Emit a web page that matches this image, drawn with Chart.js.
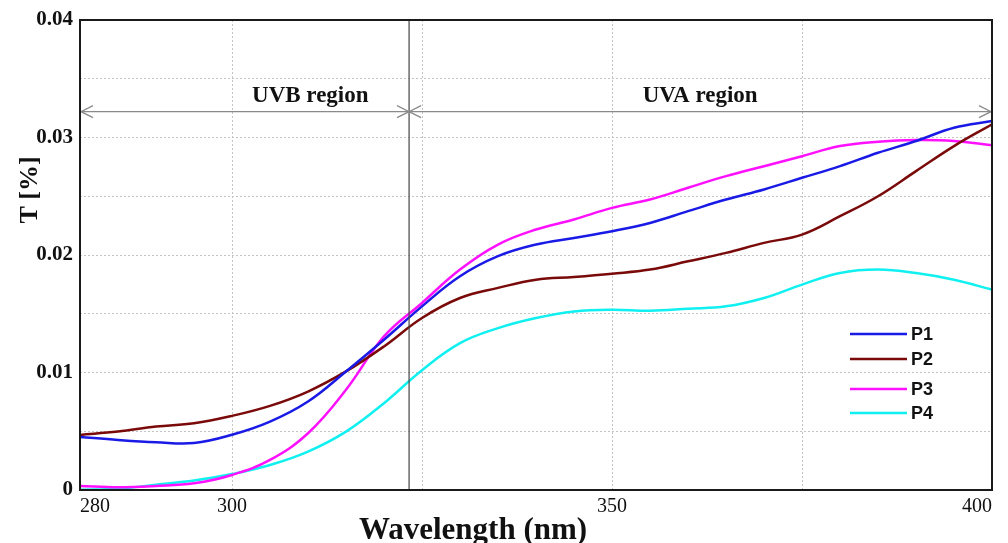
<!DOCTYPE html>
<html>
<head>
<meta charset="utf-8">
<script src="https://cdn.jsdelivr.net/npm/chart.js@4.4.1/dist/chart.umd.min.js"></script>
<style>
  html, body { margin: 0; padding: 0; background: #ffffff; }
  #wrap { width: 1008px; height: 543px; }
</style>
</head>
<body>
<div id="wrap"><canvas id="c" width="1008" height="543"></canvas></div>
<script>
// ---- Data ----
const wavelengths = [280,285,290,295,300,305,310,315,320,325,330,335,340,345,350,355,360,365,370,375,380,385,390,395,400];
const P1 = [0.00452,0.00426,0.00407,0.00400,0.00470,0.00582,0.00753,0.01009,0.01279,0.01563,0.01819,0.01990,0.02089,0.02145,0.02202,0.02273,0.02373,0.02472,0.02558,0.02657,0.02756,0.02870,0.02970,0.03083,0.03140];
const P2 = [0.00469,0.00497,0.00540,0.00568,0.00631,0.00716,0.00838,0.01009,0.01222,0.01464,0.01634,0.01720,0.01790,0.01813,0.01841,0.01876,0.01946,0.02018,0.02103,0.02174,0.02330,0.02500,0.02714,0.02927,0.03112];
const P3 = [0.00034,0.00023,0.00034,0.00057,0.00128,0.00256,0.00483,0.00853,0.01307,0.01592,0.01876,0.02089,0.02217,0.02302,0.02401,0.02472,0.02572,0.02671,0.02756,0.02841,0.02927,0.02964,0.02978,0.02970,0.02933];
const P4 = [0.00002,0.00010,0.00045,0.00080,0.00136,0.00213,0.00327,0.00497,0.00739,0.01020,0.01250,0.01378,0.01464,0.01520,0.01535,0.01526,0.01543,0.01563,0.01634,0.01748,0.01847,0.01876,0.01847,0.01790,0.01705];
const seriesNames = ['P1','P2','P3','P4'];
const seriesColors = ['#1a1ae6','#7a0a0a','#ff10ff','#10f0f0'];
const xTicks = [280,300,325,350,375,400];
const xLabels = [280,300,350,400];
const regionBoundary = 323.3;     // UVB / UVA boundary (nm)
const arrowLevel = 0.0322;        // height of the region arrows
const regionLabels = [{text:'UVB region', x:310.3}, {text:'UVA region', x:361.6}];
const xTitle = 'Wavelength (nm)';
const yTitle = 'T [%]';

const allSeries = [P1,P2,P3,P4];
const datasets = allSeries.map((arr, i) => ({
  label: seriesNames[i],
  data: arr.map((v, j) => ({x: wavelengths[j], y: v})),
  borderColor: seriesColors[i],
  backgroundColor: seriesColors[i],
  borderWidth: 2.5,
  pointRadius: 0,
  fill: false,
  tension: 0.4
}));

const serif = '"Liberation Serif", "DejaVu Serif", serif';

const overlay = {
  id: 'overlay',
  afterDatasetsDraw(chart) {
    const {ctx, chartArea: a, scales: {x, y}} = chart;
    ctx.save();
    // boundary vertical line
    const bx = x.getPixelForValue(regionBoundary);
    ctx.strokeStyle = '#444';
    ctx.lineWidth = 1.2;
    ctx.beginPath(); ctx.moveTo(bx, a.top); ctx.lineTo(bx, a.bottom); ctx.stroke();
    // arrows
    const ay = y.getPixelForValue(arrowLevel);
    ctx.strokeStyle = '#8a8a8a';
    ctx.lineWidth = 1.3;
    ctx.beginPath(); ctx.moveTo(a.left, ay); ctx.lineTo(a.right, ay); ctx.stroke();
    const head = (px, dir) => {
      ctx.beginPath();
      ctx.moveTo(px + dir*12, ay - 6); ctx.lineTo(px, ay); ctx.lineTo(px + dir*12, ay + 6);
      ctx.stroke();
    };
    head(a.left + 1, 1); head(bx, -1); head(bx, 1); head(a.right - 1, -1);
    // region labels
    ctx.fillStyle = '#111';
    ctx.font = 'bold 23px ' + serif;
    ctx.textAlign = 'center';
    ctx.textBaseline = 'alphabetic';
    regionLabels.forEach(r => ctx.fillText(r.text, x.getPixelForValue(r.x), ay - 10));
    // frame
    ctx.strokeStyle = '#1a1a1a';
    ctx.lineWidth = 2;
    ctx.strokeRect(a.left, a.top, a.right - a.left, a.bottom - a.top);
    // legend
    const offs = [0, 25, 55, 79];
    chart.data.datasets.forEach((ds, i) => {
      const ly = 334 + offs[i];
      ctx.strokeStyle = ds.borderColor;
      ctx.lineWidth = 2.5;
      ctx.beginPath(); ctx.moveTo(850, ly); ctx.lineTo(907, ly); ctx.stroke();
      ctx.fillStyle = '#111';
      ctx.font = 'bold 18px "Liberation Sans", Arial, sans-serif';
      ctx.textAlign = 'left';
      ctx.textBaseline = 'middle';
      ctx.fillText(ds.label, 911, ly + 1);
    });
    // axis titles
    ctx.fillStyle = '#111';
    ctx.font = 'bold 31px ' + serif;
    ctx.textAlign = 'center';
    ctx.textBaseline = 'alphabetic';
    ctx.fillText(xTitle, 473, 539);
    ctx.save();
    ctx.translate(37, 190);
    ctx.rotate(-Math.PI/2);
    ctx.font = 'bold 26px ' + serif;
    ctx.fillText(yTitle, 0, 0);
    ctx.restore();
    ctx.restore();
  }
};

new Chart(document.getElementById('c'), {
  type: 'line',
  data: { datasets },
  options: {
    responsive: false,
    devicePixelRatio: 1,
    animation: false,
    layout: { padding: { top: 20, right: 16, left: 0, bottom: 0 } },
    plugins: { legend: { display: false }, tooltip: { enabled: false } },
    scales: {
      x: {
        type: 'linear',
        min: 280, max: 400,
        afterBuildTicks: s => { s.ticks = xTicks.map(v => ({value: v})); },
        afterFit: s => { s.height = 53; },
        ticks: {
          autoSkip: false, maxRotation: 0, align: 'inner', padding: 5,
          color: '#111',
          font: { family: serif, size: 20 },
          callback: v => xLabels.includes(v) ? String(v) : ''
        },
        grid: { color: '#c4c4c4', lineWidth: 1, drawTicks: false },
        border: { display: false, dash: [2, 2] }
      },
      y: {
        min: 0, max: 0.04,
        afterBuildTicks: s => { const t=[]; for (let i=0;i<=8;i++) t.push({value: i*0.005}); s.ticks = t; },
        afterFit: s => { s.width = 80; },
        ticks: {
          padding: 7, color: '#111',
          font: { family: serif, size: 21, weight: 'bold' },
          callback: v => {
            const k = Math.round(v / 0.005);
            if (k % 2 !== 0) return '';
            return k === 0 ? '0' : (k * 0.005).toFixed(2);
          }
        },
        grid: { color: '#c4c4c4', lineWidth: 1, drawTicks: false },
        border: { display: false, dash: [2, 2] }
      }
    }
  },
  plugins: [overlay]
});
</script>
</body>
</html>
